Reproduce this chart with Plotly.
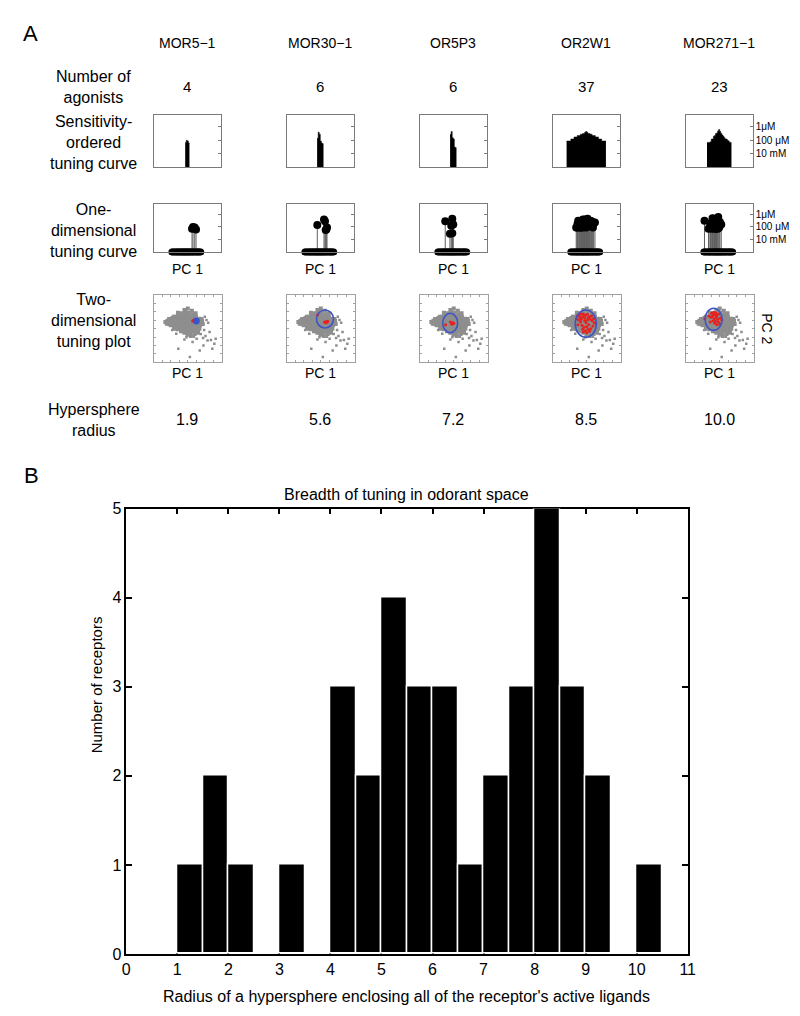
import plotly.graph_objects as go

W, H = 800, 1016

# ---------------- Panel A data ----------------
receptors = ["MOR5−1", "MOR30−1", "OR5P3", "OR2W1", "MOR271−1"]
n_agonists = ["4", "6", "6", "37", "23"]
radius_text = ["1.9", "5.6", "7.2", "8.5", "10.0"]
n_odorants = 63

# potency values (-log10 EC50, M) in sensitivity order, with PC1/PC2 of each agonist
pot_mor5 = [3.7, 4.0, 3.9, 3.6]
pc1_mor5 = [1.4, 1.7, 2.2, 2.6]
pc2_mor5 = [2.3, 2.5, 2.1, 2.4]

pot_mor30 = [4.3, 5.2, 4.9, 3.9, 3.6, 3.5]
pc1_mor30 = [-0.9, 1.1, 1.4, 2.0, 1.8, 1.6]
pc2_mor30 = [4.2, 2.0, 1.8, 2.2, 1.9, 2.1]

pot_or5p3 = [4.9, 5.3, 4.4, 4.2, 3.0, 2.9]
pc1_or5p3 = [-2.4, -0.3, 0.0, -0.6, -0.3, -1.0]
pc2_or5p3 = [1.2, 1.5, 1.6, 1.3, 1.8, 2.0]

pot_or2w1 = [3.9, 3.9, 3.9, 3.9, 4.2, 4.2, 4.2, 4.5, 4.5, 4.5, 4.7, 4.7, 4.7, 4.9, 4.9,
             5.0, 5.0, 5.2, 5.3, 5.2, 5.0, 5.0, 4.9, 4.9, 4.7, 4.7, 4.7, 4.5, 4.5, 4.5,
             4.2, 4.2, 4.2, 3.9, 3.9, 3.9, 3.9]
pc1_or2w1 = [-2.8, -2.2, -1.6, -1.0, -0.4, 0.2, 0.8, -2.0, -1.2, -0.6, 0.4, 1.0, 2.2,
             -1.4, -0.8, 0.0, 0.6, -0.4, 0.4, -1.0, 1.2, -2.4, -0.2, 1.6, 2.6, -1.8,
             0.8, -0.6, 1.4, -2.6, 0.2, -1.2, 1.8, -3.0, 0.0, 2.0, -1.6]
pc2_or2w1 = [3.8, 4.2, 4.5, 4.4, 4.0, 4.3, 3.6, 3.4, 3.6, 3.2, 3.3, 2.8, 1.8,
             1.0, 0.4, 0.6, 1.2, -0.6, -0.2, -1.0, 0.0, 2.6, 1.8, 2.4, 1.6, 2.0,
             -0.8, 2.4, 3.8, 1.2, 2.6, -0.2, 0.8, 3.0, -1.2, 3.0, 2.8]

pot_mor271 = [3.7, 3.7, 3.7, 3.8, 4.2, 4.2, 4.6, 4.7, 5.0, 5.1, 5.4, 5.6, 5.3, 5.0,
              4.8, 4.6, 4.4, 4.2, 4.2, 4.0, 3.9, 3.7, 3.7]
pc1_mor271 = [-2.2, -1.0, -0.4, -2.0, -1.4, -0.8, -2.4, -1.6, -4.4, -1.2, -2.0, -0.3,
              -1.8, -0.9, 0.2, -2.6, 0.6, -1.5, -0.6, -2.8, 0.0, -1.2, -3.2]
pc2_mor271 = [3.6, 3.4, 2.0, 2.4, 4.2, 1.2, 4.6, 3.0, 3.0, 4.8, 4.0, 4.4,
              4.9, 4.0, 3.2, 3.4, 2.6, 1.6, 2.8, 2.0, 1.4, 2.2, 3.8]

potencies = [pot_mor5, pot_mor30, pot_or5p3, pot_or2w1, pot_mor271]
pc1s = [pc1_mor5, pc1_mor30, pc1_or5p3, pc1_or2w1, pc1_mor271]
pc2s = [pc2_mor5, pc2_mor30, pc2_or5p3, pc2_or2w1, pc2_mor271]

# hypersphere projection (ellipse) in PC1/PC2
ell_cx = [2.5, 1.24, -1.06, -0.29, -1.8]
ell_cy = [2.3, 2.9, 1.7, 1.5, 2.8]
ell_rx = [0.8, 2.5, 2.2, 3.1, 2.5]
ell_ry = [0.8, 2.7, 2.9, 4.1, 3.3]

# PC1 positions of all tested odorants (baseline of 1-D tuning curves)
odorant_pc1 = [-4.6, -4.3, -3.9, -3.6, -3.2, -2.9, -2.7, -2.3, -2.0, -1.8, -1.4, -1.2,
               -0.9, -0.7, -0.4, -0.1, 0.1, 0.4, 0.7, 0.9, 1.2, 1.6, 1.8, 2.1, 2.5,
               2.8, 3.1, 3.3, 3.7, 4.0]

# odorant space: dense core (PC1, PC2)
core_x = [-6.6, -6.0, -5.8, -5.2, -5.0, -5.0, -4.5, -4.4, -4.2, -4.0,
          -3.6, -3.5, -3.4, -3.2, -3.0, -2.8, -2.6, -2.5, -2.4, -2.2, -2.0,
          -1.8, -1.6, -1.5, -1.4, -1.3, -1.2, -1.0, -0.8, -0.7, -0.6, -0.5,
          -0.4, -0.3, -0.2, -0.1, 0.0, 0.2, 0.3, 0.4, 0.5, 0.6, 0.7, 0.8, 0.9,
          1.2, 1.3, 1.4, 1.5, 1.6, 1.7, 1.8, 2.0, 2.3, 2.4, 2.5, 2.6, 2.7, 2.8,
          3.0, 3.3, 3.5, 3.6, 3.4, 4.2, 4.4,
          -5.6, -4.8, -3.9, -3.0, -2.1, -1.1, -0.2, 0.8, 1.9, 2.9, -3.8, -2.0,
          -0.9, 1.0, 2.1, 3.9, -5.4, -2.3, 0.1, 1.1, -4.0, -1.7, 0.4, 3.0,
          -6.2, -5.5, -4.7, -3.3, -2.7, -1.9, -0.9, 0.0, 1.0, 2.0, 3.2, -4.1,
          -2.9, -1.0, 1.9, 4.0, -1.3, 0.9, -2.2, 2.7]
core_y = [2.0, 2.4, 1.6, 2.8, 1.8, 1.0, 3.2, 2.2, 1.2, 0.5,
          3.6, 2.6, 1.6, 0.6, -0.2, 4.2, 3.0, 2.0, 1.0, 0.0, -0.8,
          4.6, 3.6, 2.6, 1.6, 0.6, -0.4, -1.2, 5.2, 4.2, 3.2, 2.2,
          1.2, 0.2, -0.8, -1.8, 6.0, 4.8, 3.8, 2.8, 1.8, 0.8, -0.2, -1.2, -2.2,
          5.4, 4.3, 3.3, 2.3, 1.3, 0.3, -0.7, -1.6, 4.6, 3.6, 2.6, 1.6, 0.6, -0.4,
          -1.2, 3.0, 2.0, 1.0, 0.0, 2.4, 1.4,
          2.3, 2.6, 2.1, 3.5, 2.5, 3.9, 2.7, 3.3, 2.8, 2.1, 1.4, 1.5,
          0.9, 1.8, 0.1, 1.7, 1.3, 3.8, 4.4, -0.4, 0.0, -0.3, -1.3, -0.8,
          1.5, 2.9, 1.6, 3.2, 1.4, 0.5, 0.4, 1.1, 0.4, 0.2, 2.3, 3.6,
          4.8, 5.6, 3.8, 2.9, -0.8, 2.0, 3.4, 1.0]
# sparse outliers of odorant space
out_x = [5.5, 5.0, 6.0, 4.8, 3.8, 6.4, 6.8, 7.8, 5.8, 2.6, 4.6, 7.2, -2.8,
         3.5, 0.6, -1.0, 1.4, -4.6, 8.2, 5.2, -0.4, 4.5, 1.8, -3.4]
out_y = [2.6, 3.6, 1.8, -0.4, -1.6, -1.0, -3.4, -4.5, -3.5, -3.0, -5.0, -6.0, -6.0,
         -6.5, -8.5, -3.2, -4.0, -0.4, -3.0, -2.2, -2.6, -2.8, -2.4, -1.5]

# ---------------- Panel B data ----------------
bin_left = [1.0, 1.5, 2.0, 2.5, 3.0, 3.5, 4.0, 4.5, 5.0, 5.5, 6.0, 6.5, 7.0, 7.5,
            8.0, 8.5, 9.0, 9.5, 10.0]
bin_count = [1, 2, 1, 0, 1, 0, 3, 2, 4, 3, 3, 1, 2, 3, 5, 3, 2, 0, 1]
bin_width = 0.5
hist_xticks = list(range(0, 12))
hist_yticks = [0, 1, 2, 3, 4, 5]

# ---------------- layout helpers ----------------
FONT = "Liberation Sans, Arial, Helvetica, sans-serif"
NARROW = "Liberation Sans Narrow, Arial Narrow, Liberation Sans, sans-serif"
FRAME = "#7a7a7a"


def dx(l, r):
    return [l / W, r / W]


def dy(t, b):
    return [1 - b / H, 1 - t / H]


def label(x, y, text, size, family=FONT, angle=0):
    return dict(x=x / W, y=1 - y / H, xref="paper", yref="paper", text=text,
                showarrow=False, xanchor="center", yanchor="middle", align="center",
                textangle=angle, font=dict(size=size, family=family, color="black"))


col_left = [144, 279, 414, 549, 684]
col_w = 68
col_center = [c + col_w / 2 for c in col_left]
row_sens = (101, 154)
row_one = (191, 240)
row_two = (284, 352)

fig = go.Figure()
layout = dict(width=W, height=H, margin=dict(l=0, r=0, t=0, b=0),
              paper_bgcolor="white", plot_bgcolor="white", showlegend=False,
              font=dict(family=FONT, color="black"))
shapes = []
annotations = []

k = 2
for i in range(5):
    L = col_left[i]
    pot = potencies[i]
    n = len(pot)
    # ---- sensitivity-ordered tuning curve ----
    xa, ya = "xaxis%d" % k, "yaxis%d" % k
    layout[xa] = dict(domain=dx(L, L + col_w), range=[0, n_odorants], anchor="y%d" % k,
                      showline=True, mirror=True, linecolor=FRAME, linewidth=1,
                      showgrid=False, zeroline=False, showticklabels=False, ticks="")
    layout[ya] = dict(domain=dy(*row_sens), range=[0, 7.7], anchor="x%d" % k, side="right",
                      showline=True, mirror=True, linecolor=FRAME, linewidth=1,
                      showgrid=False, zeroline=False, ticks="inside", ticklen=3,
                      tickcolor=FRAME, tickvals=[2, 4, 6],
                      ticktext=["10 mM", "100 μM", "1μM"],
                      showticklabels=(i == 4), tickfont=dict(size=10, family=FONT))
    start = (n_odorants - n) / 2
    xs = [start + j for j in range(n + 1)]
    ys = pot + [pot[-1]]
    fig.add_trace(go.Scatter(x=xs, y=ys, mode="lines", line=dict(shape="hv", color="black", width=0.5),
                             fill="tozeroy", fillcolor="black", hoverinfo="skip",
                             xaxis="x%d" % k, yaxis="y%d" % k))
    k += 1

    # ---- one-dimensional tuning curve ----
    xa, ya = "xaxis%d" % k, "yaxis%d" % k
    layout[xa] = dict(domain=dx(L, L + col_w), range=[-10, 10], anchor="y%d" % k,
                      showline=True, mirror=True, linecolor=FRAME, linewidth=1,
                      showgrid=False, zeroline=False, showticklabels=False, ticks="")
    layout[ya] = dict(domain=dy(*row_one), range=[0, 7.7], anchor="x%d" % k, side="right",
                      showline=True, mirror=True, linecolor=FRAME, linewidth=1,
                      showgrid=False, zeroline=False, ticks="inside", ticklen=3,
                      tickcolor=FRAME, tickvals=[2, 4, 6],
                      ticktext=["10 mM", "100 μM", "1μM"],
                      showticklabels=(i == 4), tickfont=dict(size=10, family=FONT))
    sx, sy = [], []
    for p, v in zip(pc1s[i], pot):
        sx += [p, p, None]
        sy += [0, v, None]
    fig.add_trace(go.Scatter(x=sx, y=sy, mode="lines", line=dict(color="#606060", width=1),
                             hoverinfo="skip", xaxis="x%d" % k, yaxis="y%d" % k))
    fig.add_trace(go.Scatter(x=odorant_pc1, y=[0] * len(odorant_pc1), mode="markers",
                             marker=dict(color="black", size=7), cliponaxis=False,
                             xaxis="x%d" % k, yaxis="y%d" % k))
    fig.add_trace(go.Scatter(x=pc1s[i], y=pot, mode="markers",
                             marker=dict(color="black", size=8), cliponaxis=False,
                             xaxis="x%d" % k, yaxis="y%d" % k))
    annotations.append(label(col_center[i], 257, "PC 1", 14))
    k += 1

    # ---- two-dimensional tuning plot ----
    xa, ya = "xaxis%d" % k, "yaxis%d" % k
    layout[xa] = dict(domain=dx(L, L + col_w + 1), range=[-10, 10], anchor="y%d" % k,
                      showline=True, mirror="ticks", linecolor="#a0a0a0", linewidth=1,
                      showgrid=False, zeroline=False, showticklabels=False,
                      ticks="inside", ticklen=2, tickcolor="#a0a0a0", dtick=2.5, tick0=0)
    layout[ya] = dict(domain=dy(*row_two), range=[-10, 10], anchor="x%d" % k,
                      showline=True, mirror="ticks", linecolor="#a0a0a0", linewidth=1,
                      showgrid=False, zeroline=False, showticklabels=False,
                      ticks="inside", ticklen=2, tickcolor="#a0a0a0", dtick=2.5, tick0=0)
    fig.add_trace(go.Scatter(x=core_x, y=core_y, mode="markers",
                             marker=dict(color="#8e8e8e", size=4, symbol="square"),
                             xaxis="x%d" % k, yaxis="y%d" % k))
    fig.add_trace(go.Scatter(x=out_x, y=out_y, mode="markers",
                             marker=dict(color="#8e8e8e", size=2.5, symbol="square"),
                             xaxis="x%d" % k, yaxis="y%d" % k))
    fig.add_trace(go.Scatter(x=pc1s[i], y=pc2s[i], mode="markers",
                             marker=dict(color="#e8201e", size=3),
                             xaxis="x%d" % k, yaxis="y%d" % k))
    filled = ell_rx[i] < 1.0
    shapes.append(dict(type="circle", xref="x%d" % k, yref="y%d" % k,
                       x0=ell_cx[i] - ell_rx[i], x1=ell_cx[i] + ell_rx[i],
                       y0=ell_cy[i] - ell_ry[i], y1=ell_cy[i] + ell_ry[i],
                       line=dict(color="#3b55c6", width=1.6),
                       fillcolor="#3b55c6" if filled else "rgba(0,0,0,0)"))
    annotations.append(label(col_center[i], 363, "PC 1", 14))
    k += 1

    # column header texts
    annotations.append(label(col_center[i], 27, receptors[i], 14))
    annotations.append(label(col_center[i], 72, n_agonists[i], 15))
    annotations.append(label(col_center[i], 410, radius_text[i], 16))

# row labels
row_labels = [("Number of<br>agonists", 72), ("Sensitivity-<br>ordered<br>tuning curve", 129),
              ("One-<br>dimensional<br>tuning curve", 218), ("Two-<br>dimensional<br>tuning plot", 310),
              ("Hypersphere<br>radius", 411)]
for txt, yy in row_labels:
    annotations.append(label(83, yy, txt, 16))

annotations.append(label(767, 318, "PC 2", 14, angle=90))
annotations.append(label(19, 18, "A", 22))
annotations.append(label(20, 467, "B", 22))

# ---------------- Panel B histogram ----------------
layout["xaxis"] = dict(domain=dx(116, 686), range=[0, 11], anchor="y", tickvals=hist_xticks,
                       showline=True, mirror="ticks", linecolor="black", linewidth=1.5,
                       ticks="inside", ticklen=6, tickcolor="black", tickwidth=1.5,
                       showgrid=False, zeroline=False, layer="below traces",
                       tickfont=dict(size=16, family=NARROW))
layout["yaxis"] = dict(domain=dy(501, 954), range=[0, 5], anchor="x", tickvals=hist_yticks,
                       showline=True, mirror="ticks", linecolor="black", linewidth=1.5,
                       ticks="inside", ticklen=6, tickcolor="black", tickwidth=1.5,
                       showgrid=False, zeroline=False, layer="below traces",
                       tickfont=dict(size=16, family=NARROW))
centers = [b + bin_width / 2 for b in bin_left]
fig.add_trace(go.Bar(x=centers, y=bin_count, width=bin_width,
                     marker=dict(color="black", line=dict(color="white", width=1.5)),
                     xaxis="x", yaxis="y"))

annotations.append(label(400, 487, "Breadth of tuning in odorant space", 16, NARROW))
annotations.append(label(401, 997, "Radius of a hypersphere enclosing all of the receptor's active ligands",
                         16, NARROW))
annotations.append(label(86, 680, "Number of receptors", 15, angle=-90))

layout["shapes"] = shapes
layout["annotations"] = annotations
layout["bargap"] = 0
fig.update_layout(**layout)
fig.write_html("out.html")
